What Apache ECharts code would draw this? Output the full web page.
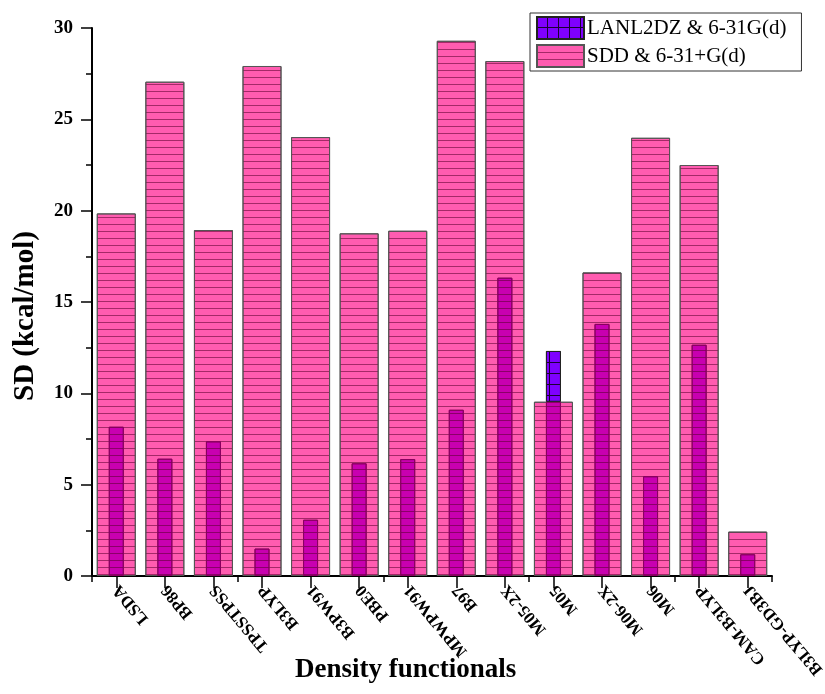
<!DOCTYPE html>
<html>
<head>
<meta charset="utf-8">
<script src="https://cdn.jsdelivr.net/npm/echarts@6/dist/echarts.min.js"></script>
<style>html,body{margin:0;padding:0;background:#fff;}#c{width:825px;height:694px;}</style>
</head>
<body>
<div id="c"></div>
<script>
const categories = ['LSDA','BP86','TPSSTPSS','B3LYP','B3PW91','PBE0','MPWPW91','B97','M05-2X','M05','M06-2X','M06','CAM-B3LYP','B3LYP-GD3BJ'];
const lanl2dz = [8.17, 6.42, 7.37, 1.50, 3.08, 6.17, 6.40, 9.10, 16.33, 12.32, 13.80, 5.46, 12.66, 1.19];
const sdd = [19.85, 27.06, 18.94, 27.92, 24.03, 18.76, 18.90, 29.30, 28.19, 9.54, 16.62, 23.99, 22.50, 2.43];
const yTicks = [0, 5, 10, 15, 20, 25, 30];

const NAME_L = 'LANL2DZ & 6-31G(d)';
const NAME_S = 'SDD & 6-31+G(d)';
// part of each LANL2DZ bar hidden behind the SDD bar, and the part sticking out above it
const overlap = lanl2dz.map((v, i) => Math.min(v, sdd[i]));
const excess = lanl2dz.map((v, i) => (v > sdd[i] ? v - sdd[i] : '-'));

const FONT = '"Liberation Serif", "Times New Roman", serif';
const hLines = { symbol: 'rect', symbolSize: 1, dashArrayX: [1, 0], dashArrayY: [1, 6], rotation: 0, color: 'rgba(90,0,45,0.55)' };
const gridDecal = { symbol: 'rect', symbolSize: 1, dashArrayX: [10, 1], dashArrayY: [10, 1], rotation: 0, color: '#7f00ff' };

const chart = echarts.init(document.getElementById('c'), null, { renderer: 'canvas' });
chart.setOption({
  animation: false,
  backgroundColor: '#fff',
  textStyle: { fontFamily: FONT },
  grid: { left: 92, right: 53, top: 28, bottom: 118, containLabel: false, outerBoundsMode: 'none' },
  legend: {
    data: [NAME_L, NAME_S],
    orient: 'vertical',
    left: 530, top: 13,
    itemWidth: 47, itemHeight: 22, itemGap: 4,
    padding: [3, 15, 3, 6],
    borderColor: '#333', borderWidth: 1, backgroundColor: '#fff',
    textStyle: { fontFamily: FONT, fontSize: 21, lineHeight: 22, color: '#000', padding: [0, 0, 0, -2] },
    icon: 'rect'
  },
  xAxis: [
    {
      type: 'category', data: categories, position: 'bottom',
      axisLine: { show: true, lineStyle: { color: '#000', width: 2 } },
      axisTick: { show: true, alignWithLabel: true, length: 12, lineStyle: { color: '#000', width: 1.5 } },
      axisLabel: { interval: 0, rotate: 130, margin: 11, fontFamily: FONT, fontSize: 17, fontWeight: 'bold', color: '#000', hideOverlap: false },
      splitLine: { show: false }
    },
    {
      type: 'category', data: categories, position: 'bottom', offset: 0,
      axisLine: { show: false },
      axisTick: { show: true, alignWithLabel: false, length: 6, lineStyle: { color: '#000', width: 1.5 } },
      axisLabel: { show: false },
      splitLine: { show: false }
    }
  ],
  yAxis: {
    type: 'value', min: yTicks[0], max: yTicks[yTicks.length - 1], interval: 5,
    name: 'SD (kcal/mol)', nameLocation: 'middle', nameGap: 52, nameRotate: 90,
    nameTextStyle: { fontFamily: FONT, fontSize: 29, fontWeight: 'bold', color: '#000', padding: [0, 0, 0, -28] },
    axisLine: { show: true, lineStyle: { color: '#000', width: 2 } },
    axisTick: { show: true, length: 11, lineStyle: { color: '#000', width: 1.5 } },
    minorTick: { show: true, splitNumber: 2, length: 6, lineStyle: { color: '#000', width: 1.5 } },
    axisLabel: { margin: 19, fontFamily: FONT, fontSize: 19, fontWeight: 'bold', color: '#000' },
    splitLine: { show: false }
  },
  graphic: [{
    type: 'text', left: 295, top: 657,
    style: { text: 'Density functionals', fontFamily: FONT, fontSize: 27, fontWeight: 'bold', fill: '#000' }
  }],
  series: [
    {
      name: NAME_S, type: 'bar', xAxisIndex: 0, barWidth: 39, data: sdd, z: 2,
      itemStyle: { color: '#ff5cb0', borderColor: '#555', borderWidth: 1, decal: hLines }
    },
    {
      name: 'overlap', type: 'bar', xAxisIndex: 1, barWidth: 15, stack: 'l', data: overlap, z: 3,
      itemStyle: { color: '#c800b0', borderColor: '#8a0060', borderWidth: 1, decal: hLines }
    },
    {
      name: NAME_L, type: 'bar', xAxisIndex: 1, barWidth: 15, stack: 'l', data: excess, z: 3,
      itemStyle: { color: '#1a0033', borderColor: '#222', borderWidth: 1, decal: gridDecal }
    }
  ]
});
</script>
</body>
</html>
